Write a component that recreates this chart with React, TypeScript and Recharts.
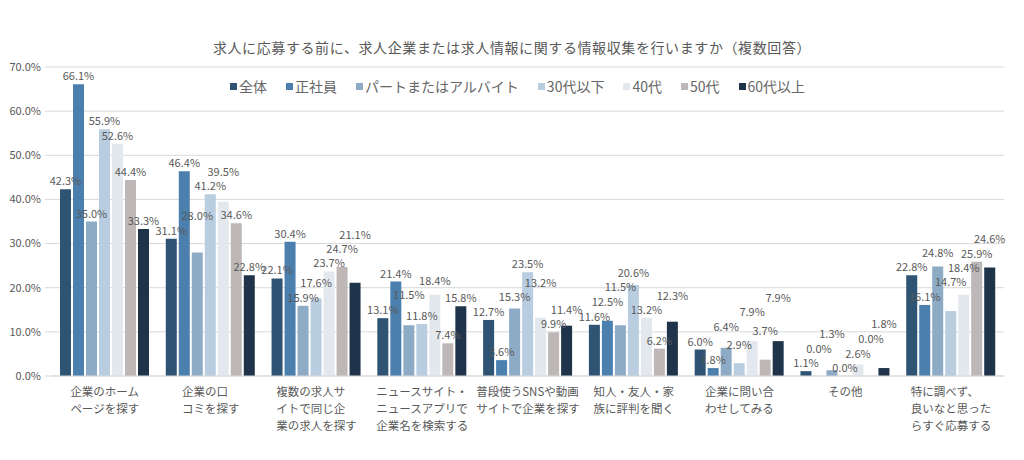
import React from 'react';
import { BarChart, Bar, XAxis, YAxis, CartesianGrid, LabelList } from 'recharts';

const FONT = '"Noto Sans CJK JP", "Noto Sans", sans-serif';
const TEXT = '#595959';
const GRID = '#d9d9d9';

// Response categories (line breaks as shown under the axis)
const categories = [
  '企業のホーム\nページを探す',
  '企業の口\nコミを探す',
  '複数の求人サ\nイトで同じ企\n業の求人を探す',
  'ニュースサイト・\nニュースアプリで\n企業名を検索する',
  '普段使うSNSや動画\nサイトで企業を探す',
  '知人・友人・家\n族に評判を聞く',
  '企業に問い合\nわせしてみる',
  'その他',
  '特に調べず、\n良いなと思った\nらすぐ応募する',
];

// Share of respondents (%) per segment
const zentai = [42.3, 31.1, 22.1, 13.1, 12.7, 11.6, 6.0, 1.1, 22.8];
const seishain = [66.1, 46.4, 30.4, 21.4, 3.6, 12.5, 1.8, 0.0, 16.1];
const partArbeit = [35.0, 28.0, 15.9, 11.5, 15.3, 11.5, 6.4, 1.3, 24.8];
const age30 = [55.9, 41.2, 17.6, 11.8, 23.5, 20.6, 2.9, 0.0, 14.7];
const age40 = [52.6, 39.5, 23.7, 18.4, 13.2, 13.2, 7.9, 2.6, 18.4];
const age50 = [44.4, 34.6, 24.7, 7.4, 9.9, 6.2, 3.7, 0.0, 25.9];
const age60 = [33.3, 22.8, 21.1, 15.8, 11.4, 12.3, 7.9, 1.8, 24.6];

const seriesNames = ['全体', '正社員', 'パートまたはアルバイト', '30代以下', '40代', '50代', '60代以上'];
const seriesValues = [zentai, seishain, partArbeit, age30, age40, age50, age60];
const seriesColors = ['#2f5473', '#4b7fae', '#8eabc6', '#b9cde0', '#e3e8ee', '#bdb7b7', '#1f344b'];

const yTicks = [0, 10, 20, 30, 40, 50, 60, 70];
const Y_MAX = 70;

const title = '求人に応募する前に、求人企業または求人情報に関する情報収集を行いますか（複数回答）';

// Chart geometry
const W = 1008;
const H = 444;
const MARGIN = { top: 59, right: 12, bottom: 16, left: 0 };
const X_AXIS_H = 60;
const Y_AXIS_W = 44;
const PLOT_H = H - MARGIN.top - MARGIN.bottom - X_AXIS_H;
const PLOT_W = W - MARGIN.left - MARGIN.right - Y_AXIS_W;
const CAT_GAP = 8;
const BAR_GAP = 2;

const data = categories.map((name, i) => {
  const row: Record<string, any> = { name };
  seriesValues.forEach((vals, s) => {
    row[`s${s}`] = vals[i];
  });
  return row;
});

const pct = (v: any) => `${Number(v).toFixed(1)}%`;

// Value labels of neighbouring bars collide easily; lift a label in steps
// until its box no longer overlaps a label already placed in the group.
const LABEL_W = 32;
const LABEL_H = 14;
const LABEL_GAP = 4;
const labelLift: number[][] = (() => {
  const n = seriesValues.length;
  const band = PLOT_W / categories.length;
  const barW = (band - 2 * CAT_GAP - (n - 1) * BAR_GAP) / n;
  const pitch = barW + BAR_GAP;
  const lifts = seriesValues.map(() => categories.map(() => 0));
  categories.forEach((_, i) => {
    const placed: { cx: number; bottom: number }[] = [];
    seriesValues.forEach((vals, s) => {
      const cx = s * pitch;
      const base = (vals[i] / Y_MAX) * PLOT_H + LABEL_GAP;
      let lift = 0;
      const hits = (b: number) =>
        placed.some(
          (p) => Math.abs(p.cx - cx) < LABEL_W && Math.abs(p.bottom - b) < LABEL_H
        );
      while (hits(base + lift) && lift < 200) lift += 1;
      lifts[s][i] = lift;
      placed.push({ cx, bottom: base + lift });
    });
  });
  return lifts;
})();

const makeValueLabel = (s: number) => (props: any) => {
  const { x, y, width, value, index } = props;
  const lift = labelLift[s][index] || 0;
  return (
    <text
      x={Number(x) + Number(width) / 2}
      y={Number(y) - LABEL_GAP - lift}
      textAnchor="middle"
      fontSize={11}
      fill={TEXT}
      fontFamily={FONT}
    >
      {pct(value)}
    </text>
  );
};

// Multi-line category label: block centred under the group, lines left-aligned
const CategoryTick = (props: any) => {
  const { x, y, payload } = props;
  const lines = String(payload.value).split('\n');
  const fs = 11.5;
  const widthOf = (s: string) =>
    Array.from(s).reduce((w, c) => w + (c.charCodeAt(0) < 128 ? 0.55 : 1) * fs, 0);
  const maxW = Math.max(...lines.map(widthOf));
  const left = x - maxW / 2;
  return (
    <g>
      {lines.map((l, i) => (
        <text
          key={i}
          x={left}
          y={y + 20 + i * 17}
          textAnchor="start"
          fontSize={fs}
          fill={TEXT}
          fontFamily={FONT}
        >
          {l}
        </text>
      ))}
    </g>
  );
};

const LegendRow = () => (
  <div
    style={{
      position: 'absolute',
      top: 68,
      left: 222,
      display: 'flex',
      alignItems: 'center',
      fontFamily: FONT,
      fontSize: 14,
      color: '#666666',
      whiteSpace: 'nowrap',
    }}
  >
    {seriesNames.map((n, i) => (
      <div key={n} style={{ display: 'flex', alignItems: 'center', marginRight: 19 }}>
        <span
          style={{
            display: 'inline-block',
            width: 7,
            height: 7,
            background: seriesColors[i],
            marginRight: 2,
          }}
        />
        <span>{n}</span>
      </div>
    ))}
  </div>
);

export default function App() {
  return (
    <div style={{ position: 'relative', width: W, height: H, background: '#fff' }}>
      <div
        style={{
          position: 'absolute',
          top: 29,
          left: 0,
          width: W,
          textAlign: 'center',
          fontFamily: FONT,
          fontSize: 14,
          letterSpacing: 0.6,
          color: TEXT,
        }}
      >
        {title}
      </div>
      <BarChart
        width={W}
        height={H}
        data={data}
        margin={MARGIN}
        barCategoryGap={CAT_GAP}
        barGap={BAR_GAP}
      >
        <CartesianGrid horizontal vertical={false} stroke={GRID} />
        <XAxis
          dataKey="name"
          interval={0}
          height={X_AXIS_H}
          tick={<CategoryTick />}
          tickLine={false}
          tickSize={0}
          tickMargin={0}
          axisLine={{ stroke: GRID }}
        />
        <YAxis
          width={Y_AXIS_W}
          domain={[0, Y_MAX]}
          ticks={yTicks}
          tickFormatter={pct}
          axisLine={false}
          tickLine={{ stroke: GRID }}
          tickSize={7}
          tickMargin={4}
          tick={{ fontSize: 11, fill: TEXT, fontFamily: FONT }}
        />
        {seriesNames.map((n, s) => (
          <Bar
            key={n}
            dataKey={`s${s}`}
            name={n}
            fill={seriesColors[s]}
            minPointSize={0.01}
            isAnimationActive={false}
          >
            <LabelList dataKey={`s${s}`} content={makeValueLabel(s)} />
          </Bar>
        ))}
      </BarChart>
      <LegendRow />
    </div>
  );
}
